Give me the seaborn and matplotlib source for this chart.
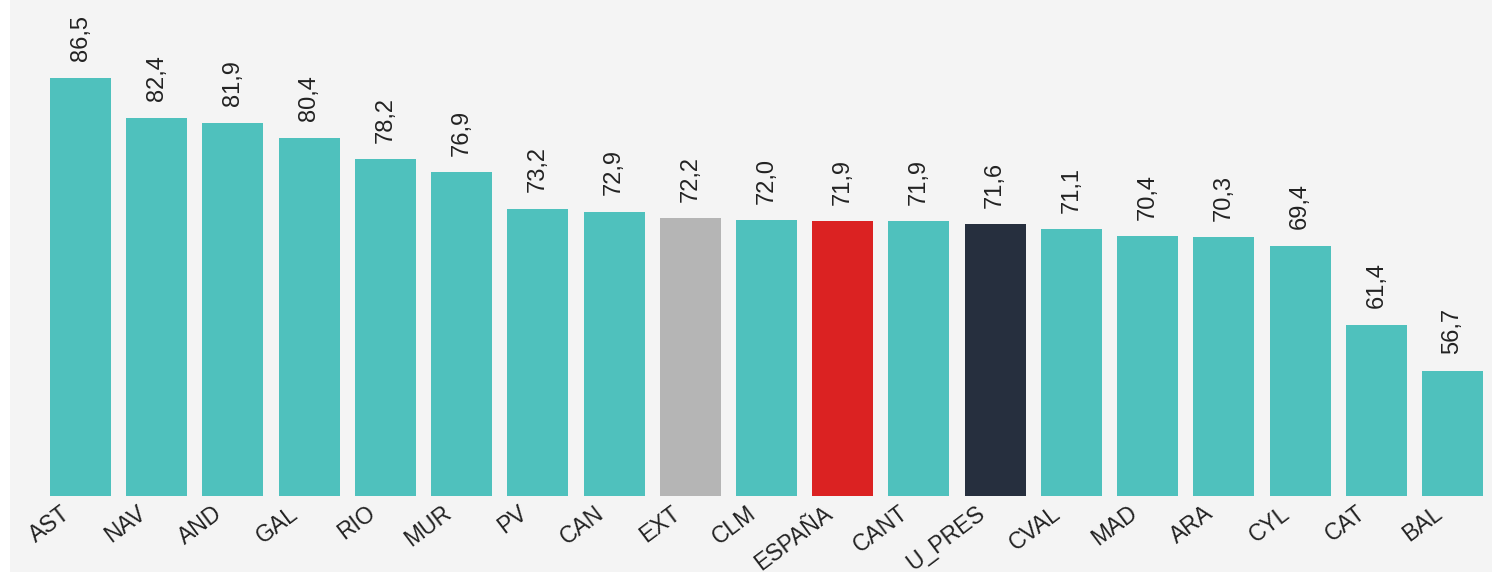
import numpy as np
import pandas as pd
import matplotlib
matplotlib.use('Agg')
import matplotlib.pyplot as plt
import matplotlib.transforms as mtransforms
import seaborn as sns

regiones = ['AST', 'NAV', 'AND', 'GAL', 'RIO', 'MUR', 'PV', 'CAN', 'EXT', 'CLM',
            'ESPAÑA', 'CANT', 'U_PRES', 'CVAL', 'MAD', 'ARA', 'CYL', 'CAT', 'BAL']
valores = [86.5, 82.4, 81.9, 80.4, 78.2, 76.9, 73.2, 72.9, 72.2, 72.0,
           71.9, 71.9, 71.6, 71.1, 70.4, 70.3, 69.4, 61.4, 56.7]
etiquetas = ['86,5', '82,4', '81,9', '80,4', '78,2', '76,9', '73,2', '72,9', '72,2', '72,0',
             '71,9', '71,9', '71,6', '71,1', '70,4', '70,3', '69,4', '61,4', '56,7']

df = pd.DataFrame({'region': regiones, 'valor': valores})

# colores: destacados para EXT, ESPAÑA y U_PRES
colores = {r: '#4fc1bd' for r in regiones}
colores['EXT'] = '#b5b5b5'
colores['ESPAÑA'] = '#db2222'
colores['U_PRES'] = '#262f3e'

sns.set_style('white')
plt.rcParams['font.family'] = ['Liberation Sans', 'DejaVu Sans']

fig = plt.figure(figsize=(14.92, 5.72), dpi=100, facecolor='white')
fig.patches.append(plt.Rectangle((10 / 1492, 0), 1, 1, transform=fig.transFigure,
                                 facecolor='#f4f4f4', edgecolor='none', zorder=-1))
ax = fig.add_axes([42.4 / 1492, 76 / 572, 1448.2 / 1492, 496 / 572])
ax.set_facecolor('#f4f4f4')

sns.barplot(data=df, x='region', y='valor', hue='region', palette=colores,
            width=0.8, legend=False, ax=ax, saturation=1, linewidth=0)

for i, (v, t) in enumerate(zip(valores, etiquetas)):
    ax.annotate(t, (i, v), xytext=(0, 12), textcoords='offset points',
                rotation=90, ha='center', va='bottom', fontsize=17, color='#222222')

ax.set_ylim(44, 94.4)
ax.set_xlim(-0.5, len(regiones) - 0.5)
ax.set_yticks([])
ax.set_xlabel('')
ax.set_ylabel('')
ax.tick_params(axis='x', length=0, pad=4)
desplaza = mtransforms.ScaledTranslation(-0.20, 0, fig.dpi_scale_trans)
for lab in ax.get_xticklabels():
    lab.set_rotation(37)
    lab.set_ha('right')
    lab.set_rotation_mode('anchor')
    lab.set_fontsize(16.5)
    lab.set_color('#222222')
    lab.set_transform(lab.get_transform() + desplaza)
for s in ax.spines.values():
    s.set_visible(False)

plt.savefig('out.png', dpi=100, facecolor=fig.get_facecolor())
